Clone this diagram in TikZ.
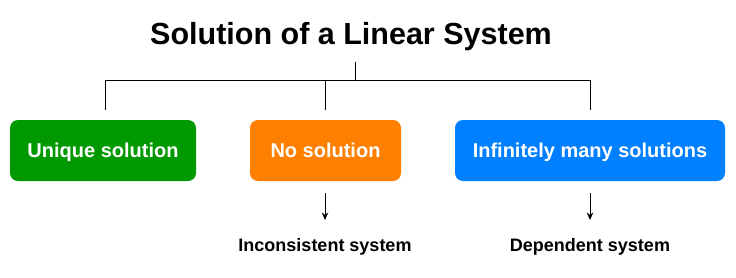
\documentclass[tikz,border=0pt]{standalone}
\usepackage{fontspec}
\setmainfont{Liberation Sans}
\usetikzlibrary{arrows.meta}
\definecolor{cgreen}{RGB}{0,153,0}
\definecolor{corange}{RGB}{255,128,0}
\definecolor{cblue}{RGB}{0,127,255}
\begin{document}
\begin{tikzpicture}[x=1pt,y=-1pt,
  box/.style={rounded corners=8pt,inner sep=0pt,text=white,minimum height=61pt,text height=14.4pt,text depth=0pt,font=\fontsize{20}{24}\selectfont\bfseries},
  lbl/.style={inner sep=0pt,text height=13pt,text depth=0pt,font=\fontsize{18}{22}\selectfont\bfseries},
  conn/.style={draw=black,line width=0.8pt},
  arr/.style={conn,-{Stealth[length=7.5pt,width=6.5pt]}}]
\useasboundingbox (0,0) rectangle (736,277);
\node[inner sep=0pt,font=\fontsize{30.5}{36}\selectfont\bfseries] (title) at (351,37) {Solution of a Linear System};
\node[box,fill=cgreen,minimum width=186pt] (uniq) at (103,150.5) {Unique solution};
\node[box,fill=corange,minimum width=151pt] (nos) at (325.5,150.5) {No solution};
\node[box,fill=cblue,minimum width=270pt] (inf) at (590,150.5) {Infinitely many solutions};
\coordinate (top) at (355,62);
\coordinate (mid) at (355,80);
\coordinate (l) at (105,80);
\coordinate (c) at (325,80);
\coordinate (r) at (590,80);
\coordinate (ld) at (105,110);
\coordinate (cd) at (325,110);
\coordinate (rd) at (590,110);
\draw[conn] (top) -- (mid);
\draw[conn] (ld) -- (l) -- (r) -- (rd);
\draw[conn] (c) -- (cd);
\node[lbl] (inc) at (325,245) {Inconsistent system};
\node[lbl] (dep) at (590,245) {Dependent system};
\coordinate (a1) at (325,193);
\coordinate (a2) at (590,193);
\coordinate (b1) at (325,220);
\coordinate (b2) at (590,220);
\draw[arr] (a1) -- (b1);
\draw[arr] (a2) -- (b2);
\end{tikzpicture}
\end{document}
